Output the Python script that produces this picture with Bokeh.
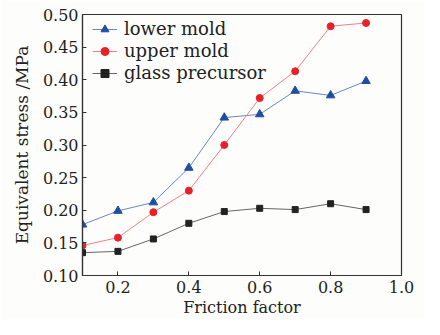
from bokeh.plotting import figure
from bokeh.models import Range1d, FixedTicker, Legend, LegendItem, CustomJSTickFormatter
from bokeh.embed import file_html
from bokeh.resources import INLINE

friction = [0.1, 0.2, 0.3, 0.4, 0.5, 0.6, 0.7, 0.8, 0.9]
lower_mold = [0.178, 0.199, 0.212, 0.265, 0.342, 0.347, 0.383, 0.376, 0.398]
upper_mold = [0.146, 0.158, 0.197, 0.230, 0.300, 0.372, 0.413, 0.482, 0.487]
glass_precursor = [0.135, 0.137, 0.156, 0.180, 0.198, 0.203, 0.201, 0.210, 0.201]
x_ticks = [0.2, 0.4, 0.6, 0.8, 1.0]
y_ticks = [0.10, 0.15, 0.20, 0.25, 0.30, 0.35, 0.40, 0.45, 0.50]

FONT = "DejaVu Serif"
BG = "#fdfdfb"

p = figure(width=424, height=319, output_backend="svg", toolbar_location=None,
           x_range=Range1d(0.1, 1.0), y_range=Range1d(0.10, 0.50),
           min_border_left=82, min_border_right=23, min_border_top=14, min_border_bottom=40)
p.background_fill_color = BG
p.border_fill_color = BG
p.outline_line_color = "#333333"
p.outline_line_width = 1.2
p.grid.visible = False

for ax in (p.xaxis[0], p.yaxis[0]):
    ax.major_label_text_font = FONT
    ax.major_label_text_font_size = "16px"
    ax.major_label_text_color = "#222222"
    ax.axis_label_text_font = FONT
    ax.axis_label_text_font_size = "16px"
    ax.axis_label_text_font_style = "normal"
    ax.axis_label_text_color = "#222222"
    ax.major_tick_in = 4
    ax.major_tick_out = 0
    ax.minor_tick_in = 0
    ax.minor_tick_out = 0
    ax.axis_line_color = "#333333"
    ax.major_tick_line_color = "#333333"
    ax.axis_line_width = 1.2

p.yaxis.axis_label_text_font_size = "17px"
p.xaxis.ticker = FixedTicker(ticks=x_ticks)
p.yaxis.ticker = FixedTicker(ticks=y_ticks)
p.xaxis.formatter = CustomJSTickFormatter(code="return tick.toFixed(1);")
p.yaxis.formatter = CustomJSTickFormatter(code="return tick.toFixed(2);")
p.xaxis.axis_label = "Friction factor"
p.yaxis.axis_label = "Equivalent stress /MPa"
p.xaxis.axis_label_standoff = 2
p.yaxis.axis_label_standoff = 8
p.xaxis.major_label_standoff = 5
p.yaxis.major_label_standoff = 4

l1 = p.line(friction, lower_mold, line_color="#6a86c8", line_width=1)
m1 = p.scatter(friction, lower_mold, marker="triangle", size=8.5, fill_color="#1f4ea0", line_color="#1f4ea0")
l2 = p.line(friction, upper_mold, line_color="#f08088", line_width=1)
m2 = p.scatter(friction, upper_mold, marker="circle", size=7, fill_color="#e8202a", line_color="#e8202a")
l3 = p.line(friction, glass_precursor, line_color="#666666", line_width=1)
m3 = p.scatter(friction, glass_precursor, marker="square", size=6, fill_color="#222222", line_color="#222222")

legend = Legend(items=[
    LegendItem(label="lower mold", renderers=[l1, m1]),
    LegendItem(label="upper mold", renderers=[l2, m2]),
    LegendItem(label="glass precursor", renderers=[l3, m3]),
], location=(10, 192))
legend.label_text_font = FONT
legend.label_text_font_size = "18px"
legend.label_text_color = "#222222"
legend.border_line_alpha = 0
legend.background_fill_alpha = 0
legend.glyph_width = 25
legend.glyph_height = 20
legend.label_height = 20
legend.spacing = 1
legend.padding = 0
legend.margin = 0
legend.label_standoff = 7
p.add_layout(legend)

open("out.html", "w").write(file_html(p, INLINE))
